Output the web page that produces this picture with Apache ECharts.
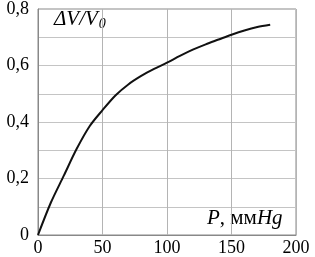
<!DOCTYPE html>
<html>
<head>
<meta charset="utf-8">
<script src="https://cdn.jsdelivr.net/npm/echarts@6/dist/echarts.min.js"></script>
<style>
  html, body { margin: 0; padding: 0; background: #fff; }
  #chart { width: 315px; height: 257px; }
</style>
</head>
<body>
<div id="chart"></div>
<script>
// данные кривой dV/V0 от давления
const pressure = [0, 10, 20, 30, 40, 50, 60, 70, 80, 90, 100, 110, 120, 130, 140, 150, 160, 170, 180];
const dVratio = [0, 0.115, 0.21, 0.305, 0.385, 0.442, 0.494, 0.533, 0.563, 0.588, 0.61, 0.634, 0.656, 0.675, 0.692, 0.709, 0.724, 0.736, 0.744];
const xTicks = [0, 50, 100, 150, 200];
const yTicks = [0, 0.2, 0.4, 0.6, 0.8];

const points = pressure.map((p, i) => [p, dVratio[i]]);

const fmtY = (v) => {
  const r = Math.round(v * 10) / 10;
  if (!yTicks.some(t => Math.abs(t - r) < 1e-6)) return '';
  return r === 0 ? '0' : r.toFixed(1).replace('.', ',');
};

const myChart = echarts.init(document.getElementById('chart'));
myChart.setOption({
  animation: false,
  grid: { left: 38, right: 19, top: 5, bottom: 22, show: true, borderColor: '#888', borderWidth: 1 },
  xAxis: {
    type: 'value', min: 0, max: 200, interval: 50,
    axisLine: { show: true, lineStyle: { color: '#888' } },
    axisTick: { show: false },
    axisLabel: {
      color: '#000', fontFamily: 'Liberation Serif', fontSize: 18, margin: 4,
      formatter: (v) => xTicks.includes(v) ? String(v) : ''
    },
    splitLine: { show: true, lineStyle: { color: '#b4b4b4', width: 1 } }
  },
  yAxis: {
    type: 'value', min: 0, max: 0.8, interval: 0.1,
    axisLine: { show: true, lineStyle: { color: '#888' } },
    axisTick: { show: false },
    axisLabel: { color: '#000', fontFamily: 'Liberation Serif', fontSize: 18, margin: 9, formatter: fmtY },
    splitLine: { show: true, lineStyle: { color: '#c4c4c4', width: 1 } }
  },
  series: [{
    type: 'line',
    data: points,
    smooth: 0.3,
    showSymbol: false,
    lineStyle: { color: '#111', width: 2, join: 'round' }
  }],
  graphic: [
    {
      type: 'text', left: 54, top: 9,
      style: {
        text: '{i|ΔV/V}{s|0}',
        rich: {
          i: { fontFamily: 'Liberation Serif', fontStyle: 'italic', fontSize: 21, fill: '#000' },
          s: { fontFamily: 'Liberation Serif', fontStyle: 'italic', fontSize: 14, fill: '#000', verticalAlign: 'bottom', padding: [9, 0, 0, 1] }
        }
      }
    },
    {
      type: 'text', left: 207, top: 208,
      style: {
        text: '{i|P}{n|, мм}{i|Hg}',
        rich: {
          i: { fontFamily: 'Liberation Serif', fontStyle: 'italic', fontSize: 21, fill: '#000' },
          n: { fontFamily: 'Liberation Serif', fontSize: 21, fill: '#000' }
        }
      }
    }
  ]
});
window.onresize = function () {
  myChart.resize();
};
</script>
</body>
</html>
